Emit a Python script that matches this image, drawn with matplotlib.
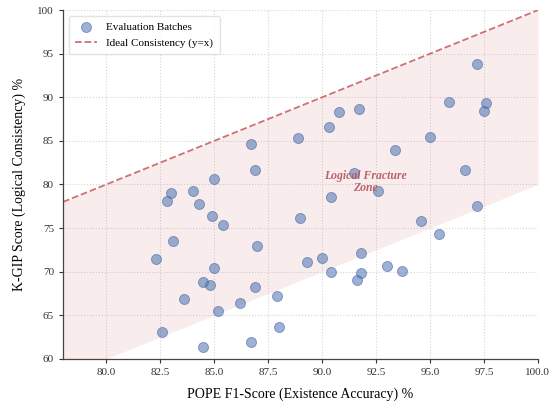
import matplotlib
matplotlib.use("Agg")
import matplotlib.pyplot as plt
import numpy as np

pope_f1 = [86.7, 88.9, 86.9, 85.0, 83.0, 82.8, 84.0, 84.3, 84.9, 85.4, 89.0, 83.1, 87.0,
           89.3, 82.3, 85.0, 84.5, 84.8, 83.6, 86.9, 86.2, 87.9, 85.2, 82.6, 88.0, 84.5, 86.7,
           97.2, 95.9, 97.6, 97.5, 90.8, 91.7, 90.3, 95.0, 93.4, 96.6, 91.5, 90.4, 92.6, 97.2,
           94.6, 95.4, 91.8, 90.0, 90.4, 91.8, 91.6, 93.0, 93.7]
kgip = [84.6, 85.3, 81.7, 80.6, 79.0, 78.1, 79.3, 77.8, 76.4, 75.3, 76.2, 73.5, 73.0,
        71.1, 71.4, 70.4, 68.8, 68.5, 66.9, 68.2, 66.4, 67.2, 65.5, 63.1, 63.7, 61.4, 61.9,
        93.8, 89.5, 89.4, 88.4, 88.3, 88.7, 86.6, 85.5, 83.9, 81.7, 81.3, 78.6, 79.3, 77.5,
        75.8, 74.3, 72.1, 71.6, 70.0, 69.9, 69.0, 70.6, 70.1]

x_ticks = [80.0, 82.5, 85.0, 87.5, 90.0, 92.5, 95.0, 97.5, 100.0]
y_ticks = [60, 65, 70, 75, 80, 85, 90, 95, 100]
x_lim = (78, 100)
y_lim = (60, 100)
zone_gap = 20

plt.rcParams['font.family'] = ['Liberation Serif', 'DejaVu Serif']

fig = plt.figure(figsize=(5.58, 4.05), dpi=100)
ax = fig.add_axes([0.113, 0.114, 0.851, 0.861])

xs = np.array([x_lim[0], x_lim[1]])
ax.fill_between(xs, xs - zone_gap, xs, color='#C44E52', alpha=0.1, linewidth=0, zorder=1)
ax.plot(xs, xs, linestyle='--', color='#C44E52', alpha=0.8, linewidth=1.3,
        label='Ideal Consistency (y=x)', zorder=2)
ax.scatter(pope_f1, kgip, s=52, color='#4C72B0', alpha=0.55, edgecolor='#3d62a4',
           linewidth=0.7, label='Evaluation Batches', zorder=3)

ax.text(92.0, 80.25, 'Logical Fracture\nZone', ha='center', va='center', fontsize=8.5,
        fontstyle='italic', fontweight='bold', color='#B5545C', alpha=0.9, zorder=4,
        linespacing=1.0)

ax.set_xlim(*x_lim)
ax.set_ylim(*y_lim)
ax.set_xticks(x_ticks)
ax.set_xticklabels([f"{t:.1f}" for t in x_ticks])
ax.set_yticks(y_ticks)
ax.tick_params(labelsize=8, length=3, width=0.8, colors='#333333')
ax.grid(True, linestyle=':', color='#d5d5d5', linewidth=0.8, zorder=0)
ax.set_axisbelow(True)
for s in ['top', 'right']:
    ax.spines[s].set_visible(False)
for s in ['left', 'bottom']:
    ax.spines[s].set_color('#444444')
    ax.spines[s].set_linewidth(0.9)

ax.set_xlabel('POPE F1-Score (Existence Accuracy) %', fontsize=10, labelpad=8)
ax.set_ylabel('K-GIP Score (Logical Consistency) %', fontsize=10, labelpad=8)

handles, labels = ax.get_legend_handles_labels()
ax.legend(handles[::-1], labels[::-1], loc='upper left', fontsize=8, frameon=True,
          edgecolor='#dddddd', fancybox=True, borderpad=0.6)

fig.savefig('out.png', dpi=100)
